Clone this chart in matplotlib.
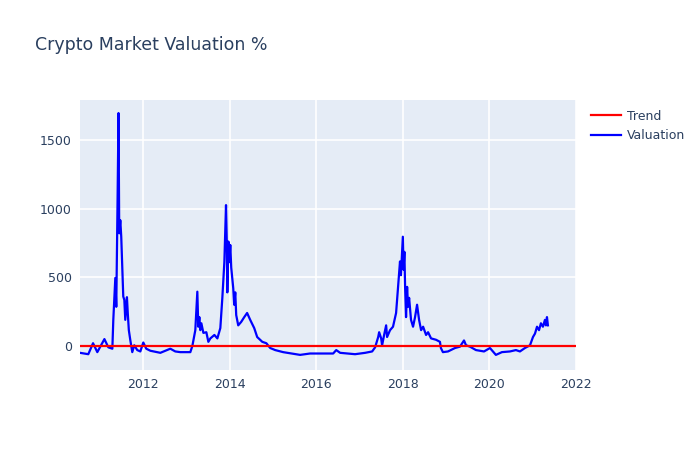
import matplotlib.pyplot as plt
import matplotlib.dates as mdates
from matplotlib.lines import Line2D
import pandas as pd

# valuation (%)
val_dates = [
    "2010-07-18", "2010-09-26", "2010-11-05", "2010-12-11", "2011-02-09", "2011-03-14",
    "2011-04-17", "2011-04-25", "2011-05-12", "2011-05-20", "2011-05-31", "2011-06-08",
    "2011-06-14", "2011-06-23", "2011-07-01", "2011-07-10", "2011-07-18", "2011-07-27",
    "2011-08-04", "2011-08-18", "2011-08-25", "2011-09-03", "2011-09-15", "2011-10-02",
    "2011-10-19", "2011-11-13", "2011-12-09", "2012-01-03", "2012-01-28", "2012-03-03",
    "2012-05-26", "2012-08-18", "2012-09-29", "2012-11-10", "2013-02-03", "2013-02-20",
    "2013-03-17", "2013-04-03", "2013-04-11", "2013-04-20", "2013-04-28", "2013-05-07",
    "2013-05-24", "2013-06-18", "2013-07-05", "2013-07-22", "2013-08-25", "2013-09-19",
    "2013-10-14", "2013-10-31", "2013-11-17", "2013-12-01", "2013-12-08", "2013-12-12",
    "2013-12-21", "2013-12-29", "2014-01-06", "2014-01-14", "2014-01-31", "2014-02-08",
    "2014-02-17", "2014-02-25", "2014-03-14", "2014-04-08", "2014-05-04", "2014-05-28",
    "2014-06-23", "2014-07-27", "2014-08-21", "2014-10-03", "2014-11-06", "2014-12-09",
    "2015-01-20", "2015-03-28", "2015-08-18", "2015-11-10", "2016-02-03", "2016-05-23",
    "2016-06-18", "2016-07-21", "2016-11-24", "2017-02-17", "2017-04-17", "2017-05-12",
    "2017-06-07", "2017-06-15", "2017-07-02", "2017-07-10", "2017-07-27", "2017-08-13",
    "2017-08-21", "2017-09-15", "2017-10-10", "2017-11-05", "2017-11-22", "2017-12-08",
    "2017-12-16", "2018-01-01", "2018-01-07", "2018-01-14", "2018-01-20", "2018-01-28",
    "2018-02-06", "2018-02-14", "2018-02-23", "2018-03-11", "2018-03-28", "2018-04-14",
    "2018-05-01", "2018-05-18", "2018-06-04", "2018-06-21", "2018-07-16", "2018-08-02",
    "2018-08-27", "2018-10-08", "2018-11-10", "2018-11-18", "2018-12-05", "2019-01-17",
    "2019-03-17", "2019-04-28", "2019-06-01", "2019-06-18", "2019-07-21", "2019-09-10",
    "2019-11-17", "2020-01-06", "2020-02-25", "2020-04-16", "2020-06-23", "2020-08-12",
    "2020-09-15", "2020-10-27", "2020-12-09", "2021-01-03", "2021-01-20", "2021-02-06",
    "2021-02-23", "2021-03-11", "2021-03-28", "2021-04-14", "2021-04-22", "2021-05-01",
    "2021-05-09",
]
val_pct = [
    -50, -60, 20, -45, 50, -10,
    -20, 190, 495, 285, 1060, 1695,
    820, 915, 795, 575, 360, 335,
    190, 355, 240, 115, 45, -45,
    5, -30, -40, 25, -20, -35,
    -50, -20, -40, -45, -45, 0,
    115, 395, 140, 210, 115, 165,
    95, 100, 30, 55, 80, 55,
    130, 350, 610, 1025, 735, 390,
    760, 610, 735, 570, 420, 300,
    390, 225, 150, 175, 210, 240,
    190, 130, 65, 30, 20, -15,
    -30, -45, -65, -55, -55, -55,
    -30, -50, -60, -50, -40, -10,
    65, 100, 55, 5, 80, 150,
    65, 115, 140, 240, 430, 615,
    515, 795, 555, 685, 430, 210,
    430, 285, 350, 190, 140, 210,
    300, 190, 115, 140, 80, 100,
    55, 45, 30, -15, -45, -40,
    -15, -5, 40, 5, -5, -30,
    -40, -15, -65, -45, -40, -30,
    -40, -15, 5, 65, 90, 140,
    115, 165, 140, 190, 150, 210,
    150,
]

trend_dates = ["2010-07-18", "2022-01-01"]
trend_pct = [0, 0]

val_x = pd.to_datetime(val_dates)
trend_x = pd.to_datetime(trend_dates)

txt = "#2a3f5f"

fig = plt.figure(figsize=(7, 4.5), dpi=100)
ax = fig.add_axes([80/700, 1-370/450, 496/700, 270/450])
ax.set_facecolor("#E5ECF6")

ax.plot(trend_x, trend_pct, color="red", lw=1.6, zorder=3)
ax.plot(val_x, val_pct, color="blue", lw=1.6, zorder=2)

ax.set_xlim(pd.Timestamp("2010-07-18"), pd.Timestamp("2022-01-01"))
ax.set_ylim(-175, 1790)
ax.xaxis.set_major_locator(mdates.YearLocator(2))
ax.xaxis.set_major_formatter(mdates.DateFormatter("%Y"))
ax.set_yticks([0, 500, 1000, 1500])
ax.grid(True, color="white", lw=1.2)
ax.set_axisbelow(True)
for s in ax.spines.values():
    s.set_visible(False)
ax.tick_params(length=0, labelsize=9, colors=txt, pad=6)

fig.text(35/700, 1-45/450, "Crypto Market Valuation %", fontsize=12.5, color=txt, va="center")

handles = [Line2D([], [], color="red", lw=1.6), Line2D([], [], color="blue", lw=1.6)]
fig.legend(handles, ["Trend", "Valuation"], loc="upper left",
           bbox_to_anchor=(588/700, 1-107/450), frameon=False, fontsize=9,
           labelcolor=txt, handlelength=2.4, handletextpad=0.5, labelspacing=0.55,
           borderaxespad=0, borderpad=0.2)

fig.savefig("out.png", dpi=100)
